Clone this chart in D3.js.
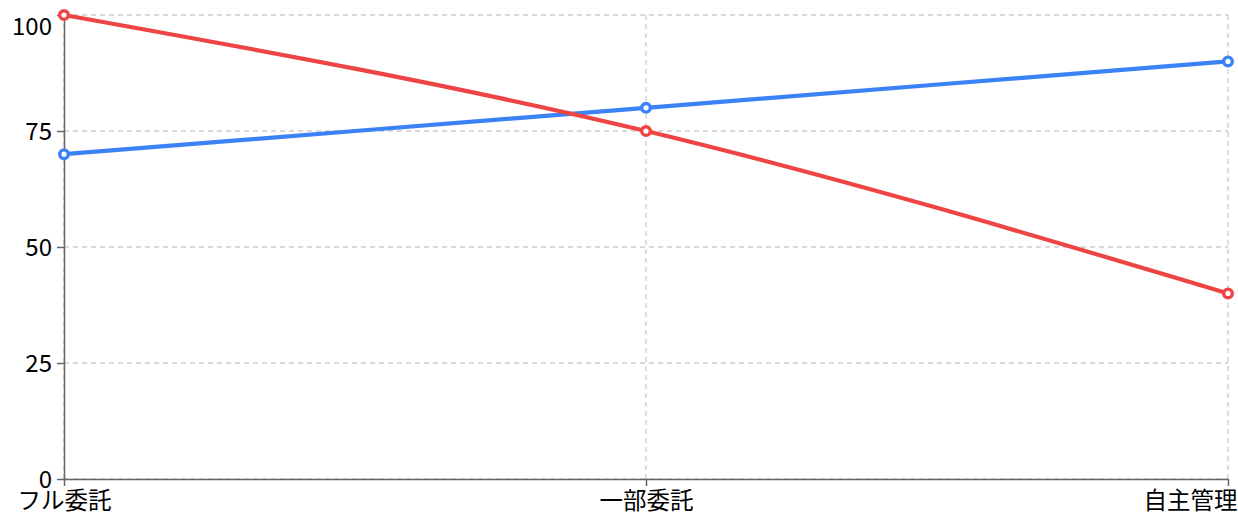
<!DOCTYPE html>
<html>
<head>
<meta charset="utf-8">
<script src="https://cdn.jsdelivr.net/npm/d3@7"></script>
<style>
  html, body { margin: 0; padding: 0; background: #fff; }
  svg { display: block; font-family: "Noto Sans CJK JP", "Noto Sans", sans-serif; }
</style>
</head>
<body>
<svg id="chart" width="1238" height="526"></svg>
<script>
const categories = ['フル委託', '一部委託', '自主管理']
const redValues = [100, 75, 40]
const blueValues = [70, 80, 90]
const yTicks = [0, 25, 50, 75, 100]

const width = 1238
const height = 526
const margin = {top: 15, right: 10, bottom: 47, left: 64}

const svg = d3.select('#chart')

const xScale = d3
  .scalePoint()
  .domain(categories)
  .range([margin.left, width - margin.right])
const yScale = d3
  .scaleLinear()
  .domain([0, 100])
  .range([height - margin.bottom, margin.top])

// grid
const grid = svg.append('g')
  .attr('stroke', '#ccc')
  .attr('stroke-width', 1.3)
  .attr('stroke-dasharray', '5 4')
grid.selectAll('.hgrid')
  .data(yTicks)
  .join('line')
  .attr('x1', margin.left)
  .attr('x2', width - margin.right)
  .attr('y1', d => yScale(d))
  .attr('y2', d => yScale(d))
grid.selectAll('.vgrid')
  .data(categories)
  .join('line')
  .attr('x1', d => xScale(d))
  .attr('x2', d => xScale(d))
  .attr('y1', margin.top)
  .attr('y2', height - margin.bottom)

// axes
const xAxis = d3.axisBottom(xScale).tickSize(7).tickSizeOuter(0).tickPadding(4)
svg.append('g')
  .attr('transform', `translate(0,${height - margin.bottom})`)
  .call(xAxis)
  .call(g => {
    g.select('.domain').attr('stroke', '#666').attr('stroke-width', 1.5)
    g.selectAll('.tick line').attr('stroke', '#666').attr('stroke-width', 1.5)
    g.selectAll('.tick text')
      .attr('font-size', 23.5)
      .attr('font-family', '"Noto Sans CJK JP", sans-serif')
      .attr('fill', '#000')
      .attr('dy', '0.82em')
    // keep the last label inside the picture
    g.selectAll('.tick text')
      .filter(d => d === categories[categories.length - 1])
      .attr('text-anchor', 'end')
      .attr('x', 9)
  })

const yAxis = d3.axisLeft(yScale).tickValues(yTicks).tickSize(7).tickSizeOuter(0).tickPadding(5)
svg.append('g')
  .attr('transform', `translate(${margin.left},0)`)
  .call(yAxis)
  .call(g => {
    g.select('.domain').attr('stroke', '#666').attr('stroke-width', 1.5)
    g.selectAll('.tick line').attr('stroke', '#666').attr('stroke-width', 1.5)
    g.selectAll('.tick text')
      .attr('font-size', 24)
      .attr('font-family', '"Noto Sans CJK JP", sans-serif')
      .attr('fill', '#000')
      .attr('dy', '0.34em')
    g.selectAll('.tick text')
      .filter(d => d === 100)
      .attr('dy', '0.82em')
  })

// lines
const line = d3.line()
  .x((d, i) => xScale(categories[i]))
  .y(d => yScale(d))
  .curve(d3.curveMonotoneX)

const series = [
  {values: blueValues, color: '#3b82f6'},
  {values: redValues, color: '#ef4444'}
]

series.forEach(s => {
  svg.append('path')
    .datum(s.values)
    .attr('fill', 'none')
    .attr('stroke', s.color)
    .attr('stroke-width', 4.2)
    .attr('d', line)
  svg.selectAll(null)
    .data(s.values)
    .enter()
    .append('circle')
    .attr('cx', (d, i) => xScale(categories[i]))
    .attr('cy', d => yScale(d))
    .attr('r', 4.3)
    .attr('fill', '#fff')
    .attr('stroke', s.color)
    .attr('stroke-width', 3.4)
})
</script>
</body>
</html>
